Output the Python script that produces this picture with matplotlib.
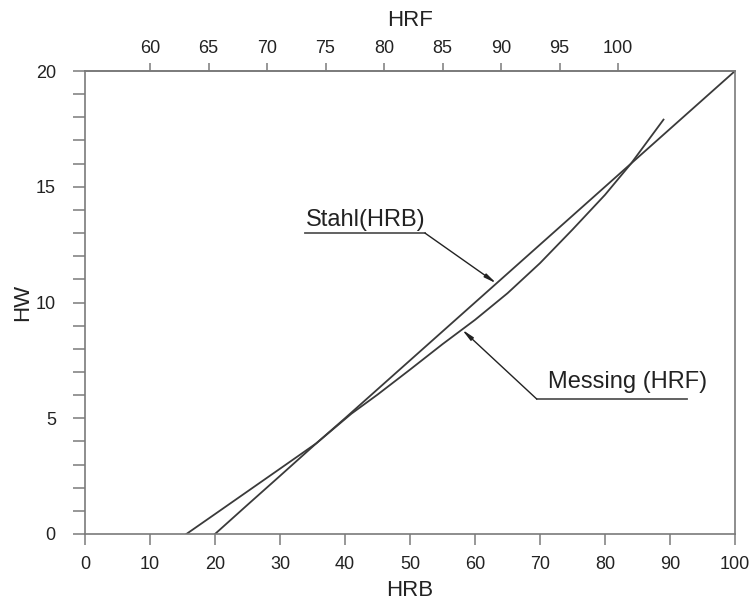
import numpy as np
import matplotlib
matplotlib.use("Agg")
import matplotlib.pyplot as plt

plt.rcParams['font.family'] = ['Liberation Sans', 'DejaVu Sans']

# === data (HRB on x, HW on y) ===
stahl_hrb = [15.6, 20, 25, 30, 35.6, 40, 50, 60, 70, 80, 90, 100]
stahl_hw = [0, 0.86, 1.84, 2.82, 3.92, 5.0, 7.5, 10.0, 12.5, 15.0, 17.5, 20.0]

messing_hrb = [20, 25, 30, 35.6, 41, 45, 50, 55, 60, 65, 70, 75, 80, 84, 89]
messing_hw = [0, 1.26, 2.51, 3.92, 5.2, 6.02, 7.1, 8.2, 9.25, 10.4, 11.7, 13.15, 14.65, 16.0, 17.9]

hrb_ticks = list(range(0, 101, 10))
hw_ticks = list(range(0, 21, 5))
hrf_ticks = [60, 65, 70, 75, 80, 85, 90, 95, 100]


# HRF scale on top, linear against HRB
def hrb_to_hrf(x):
    return (np.asarray(x) + 98.0) / 1.8


def hrf_to_hrb(f):
    return np.asarray(f) * 1.8 - 98.0


line_col = "#3a3a3a"
axis_col = "#7a7a7a"
text_col = "#222222"

fig = plt.figure(figsize=(7.55, 6.03), dpi=100)
ax = fig.add_axes([85 / 755, 69 / 603, 650 / 755, 463 / 603])

ax.plot(stahl_hrb, stahl_hw, color=line_col, lw=1.3)
ax.plot(messing_hrb, messing_hw, color=line_col, lw=1.3)

ax.set_xlim(0, 100)
ax.set_ylim(0, 20)
ax.set_xticks(hrb_ticks)
ax.set_yticks(hw_ticks)
ax.set_yticks(range(0, 21), minor=True)
ax.tick_params(axis="x", direction="out", length=8, width=1.1, color=axis_col,
               pad=8, labelsize=13, labelcolor=text_col)
ax.tick_params(axis="y", which="both", direction="out", length=9, width=1.1,
               color=axis_col, pad=12, labelsize=13, labelcolor=text_col)
for s in ax.spines.values():
    s.set_color(axis_col)
    s.set_linewidth(1.2)

ax.set_xlabel("HRB", fontsize=16, color=text_col, labelpad=5)
ax.set_ylabel("HW", fontsize=16, color=text_col, labelpad=2)

top = ax.secondary_xaxis("top", functions=(hrb_to_hrf, hrf_to_hrb))
top.set_xticks(hrf_ticks)
top.tick_params(direction="out", length=6, width=1.1, color=axis_col,
                pad=4, labelsize=13, labelcolor=text_col)
top.spines["top"].set_color(axis_col)
top.spines["top"].set_linewidth(1.2)
top.set_xlabel("HRF", fontsize=16, color=text_col, labelpad=10)

# --- leader annotations ---
arrow = dict(arrowstyle="-|>,head_length=0.7,head_width=0.12", color="#222222",
             lw=1.0, shrinkA=0, shrinkB=0)

s_x = 63.3
s_tip = (s_x, np.interp(s_x, stahl_hrb, stahl_hw))
ax.annotate("", xy=s_tip, xytext=(52.3, 13.0), arrowprops=arrow)
ax.plot([33.8, 52.3], [13.0, 13.0], color="#555555", lw=1.3)
ax.text(34.0, 13.3, "Stahl(HRB)", fontsize=17, color=text_col, va="baseline")

m_x = 58.0
m_tip = (m_x, np.interp(m_x, messing_hrb, messing_hw))
ax.annotate("", xy=m_tip, xytext=(69.5, 5.83), arrowprops=arrow)
ax.plot([69.5, 92.6], [5.83, 5.83], color="#555555", lw=1.3)
ax.text(71.2, 6.3, "Messing (HRF)", fontsize=17, color=text_col, va="baseline")

fig.savefig("out.png", dpi=100)
